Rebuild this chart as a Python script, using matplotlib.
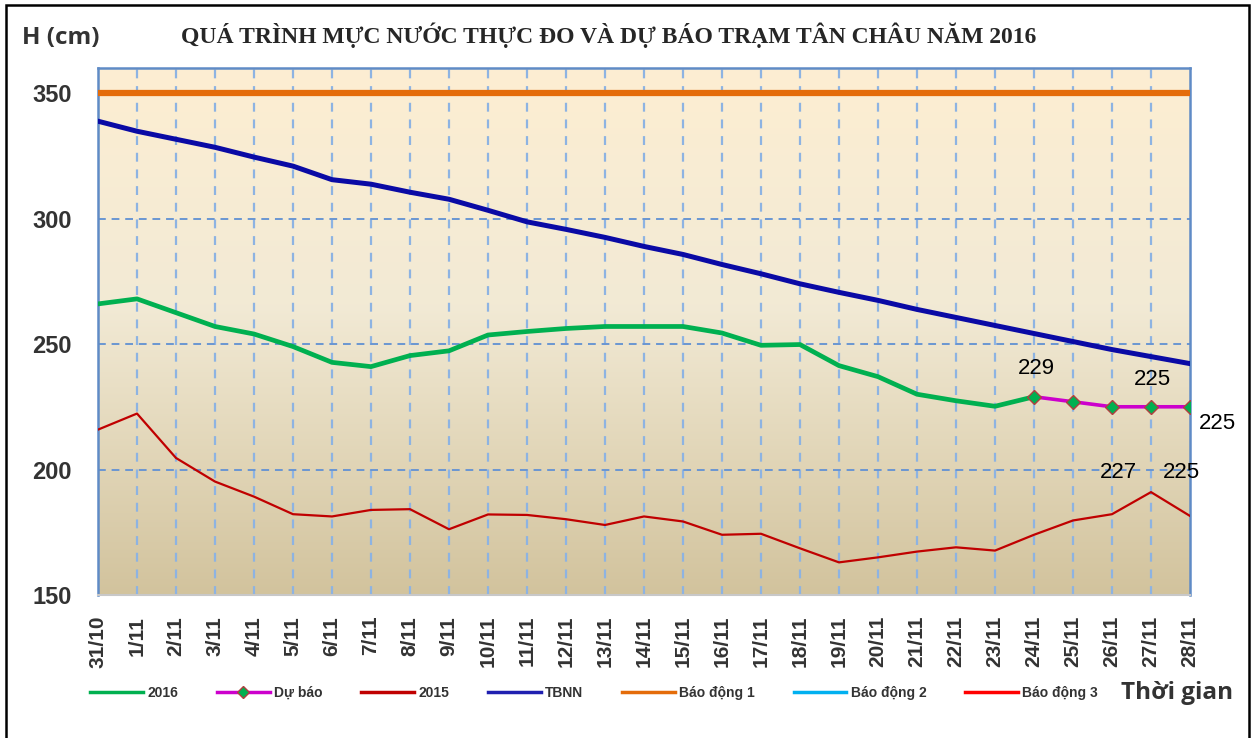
import numpy as np
import matplotlib
matplotlib.use("Agg")
import matplotlib.pyplot as plt
from matplotlib.lines import Line2D
from matplotlib.patches import Rectangle
from matplotlib.colors import LinearSegmentedColormap

dates = ["31/10", "1/11", "2/11", "3/11", "4/11", "5/11", "6/11", "7/11", "8/11", "9/11",
         "10/11", "11/11", "12/11", "13/11", "14/11", "15/11", "16/11", "17/11", "18/11",
         "19/11", "20/11", "21/11", "22/11", "23/11", "24/11", "25/11", "26/11", "27/11", "28/11"]
nan = np.nan
h2016 = [266, 268, 262.5, 257, 254, 249, 242.7, 241, 245.4, 247.3, 253.6, 255, 256.2, 257, 257,
         257, 254.4, 249.5, 249.8, 241.4, 237, 230, 227.4, 225.2, 229,
         nan, nan, nan, nan]
du_bao = [nan] * 24 + [229, 227, 225, 225, 225]
h2015 = [215.9, 222.3, 204.6, 195.2, 189.2, 182.2, 181.3, 183.9, 184.2, 176.2, 182.1, 181.9,
         180.2, 177.9, 181.3, 179.3, 174, 174.4, 168.6, 163, 165, 167.3, 169, 167.7, 174,
         179.7, 182.2, 191, 181.5]
tbnn = [338.8, 334.8, 331.6, 328.4, 324.5, 320.9, 315.5, 313.7, 310.5, 307.7, 303.3, 298.7,
        295.7, 292.5, 288.9, 285.7, 281.7, 278, 274, 270.6, 267.4, 263.8, 260.6, 257.4, 254.2,
        251, 247.8, 245, 242.2]
bd1 = [350] * len(dates)
bd2 = [400] * len(dates)
bd3 = [450] * len(dates)
yticks = [150, 200, 250, 300, 350]

W, H = 1259, 738
fig = plt.figure(figsize=(W / 100, H / 100), dpi=100)
ax = fig.add_axes([98 / W, 1 - 595 / H, (1190 - 98) / W, (595 - 68) / H])

x = np.arange(len(dates))

# background gradient
cmap = LinearSegmentedColormap.from_list("bg", [(0, "#D2C39D"), (0.55, "#F2EAD5"), (1, "#FDEED2")])
grad = np.linspace(0, 1, 256).reshape(-1, 1)
ax.imshow(grad, extent=[0, 1, 0, 1], transform=ax.transAxes, aspect="auto", cmap=cmap,
          origin="lower", zorder=0)

# grid
for xi in x[1:-1]:
    ax.axvline(xi, color="#8DB3E2", lw=1.6, ls=(0, (4, 3.5)), zorder=1)
for yv in yticks[1:-1]:
    ax.axhline(yv, color="#6A96D2", lw=1.4, ls=(0, (4, 3)), zorder=1)

ax.plot(x, bd2, color="#00B0F0", lw=2.5, zorder=2)
ax.plot(x, bd3, color="#FF0000", lw=2.5, zorder=2)
ax.plot(x, bd1, color="#E46C0A", lw=4.5, zorder=3, solid_capstyle="butt")
ax.plot(x, tbnn, color="#0A0AA5", lw=3.6, zorder=3)
ax.plot(x, h2015, color="#C00000", lw=1.6, zorder=3)
ax.plot(x, h2016, color="#00B050", lw=3.4, zorder=3)
ax.plot(x, du_bao, color="#CC00CC", lw=2.6, marker="D", ms=7, mfc="#00B050",
        mec="#B04040", mew=1.0, zorder=4)

# data labels (forecast)
lab_kw = dict(textcoords="offset points", fontsize=16, family="Liberation Sans",
              color="#000000", ha="center", va="center", zorder=5)
ax.annotate(f"{du_bao[24]:.0f}", (24, du_bao[24]), xytext=(2, 20), **lab_kw)
ax.annotate(f"{du_bao[27]:.0f}", (27, du_bao[27]), xytext=(1, 20), **lab_kw)
ax.annotate(f"{du_bao[28]:.0f}", (28, du_bao[28]), xytext=(20, -12), **lab_kw)
ax.annotate(f"{du_bao[25]:.0f}", (25, du_bao[25]), xytext=(33, -51), **lab_kw)
ax.annotate(f"{du_bao[26]:.0f}", (26, du_bao[26]), xytext=(50, -47), **lab_kw)

ax.set_xlim(0, len(dates) - 1)
ax.set_ylim(150, 360)
ax.set_xticks(x)
ax.set_xticklabels(dates, rotation=90, fontsize=15, fontweight="bold",
                   family="Liberation Sans", color="#333333")
ax.set_yticks(yticks)
ax.set_yticklabels([str(v) for v in yticks], fontsize=17, fontweight="bold",
                   family="Liberation Sans", color="#333333")
ax.tick_params(axis="x", length=0, pad=15)
ax.tick_params(axis="y", length=0, pad=19)
for s in ["left", "top", "right"]:
    ax.spines[s].set_color("#5F8BC6")
    ax.spines[s].set_linewidth(1.8)
ax.spines["bottom"].set_color("#C8C8C8")
ax.spines["bottom"].set_linewidth(1.5)

# texts
fig.text(609 / W, 1 - 35 / H,
         "QUÁ TRÌNH MỰC NƯỚC THỰC ĐO VÀ DỰ BÁO TRẠM TÂN CHÂU NĂM 2016",
         ha="center", va="center", fontsize=17, fontweight="bold",
         family="Liberation Serif", color="#262626")
fig.text(22 / W, 1 - 38 / H, "H (cm)", ha="left", va="center", fontsize=17.5,
         fontweight="bold", family="Open Sans", color="#333333")
fig.text(1177 / W, 1 - 693 / H, "Thời gian", ha="center", va="center", fontsize=17.5,
         fontweight="bold", family="Open Sans", color="#333333")

# legend
handles = [
    Line2D([], [], color="#00B050", lw=2.5),
    Line2D([], [], color="#CC00CC", lw=2.5, marker="D", ms=6, mfc="#00B050", mec="#B04040"),
    Line2D([], [], color="#C00000", lw=2.5),
    Line2D([], [], color="#1F1FB0", lw=2.5),
    Line2D([], [], color="#E46C0A", lw=2.5),
    Line2D([], [], color="#00B0F0", lw=2.5),
    Line2D([], [], color="#FF0000", lw=2.5),
]
labels = ["2016", "Dự báo", "2015", "TBNN", "Báo động 1", "Báo động 2", "Báo động 3"]
fig.legend(handles, labels, loc="center", bbox_to_anchor=(594 / W, 1 - 693 / H), ncol=7,
           frameon=False, handlelength=3.8, handletextpad=0.3, columnspacing=2.8,
           prop=dict(family="Liberation Sans", weight="bold", size=10), labelcolor="#333333")

# outer frame
fig.patches.append(Rectangle((6 / W, -0.02), (1249 - 6) / W, 1 - 5 / H + 0.02,
                             transform=fig.transFigure, fill=False, ec="black", lw=1.8))

fig.savefig("out.png", dpi=100)
